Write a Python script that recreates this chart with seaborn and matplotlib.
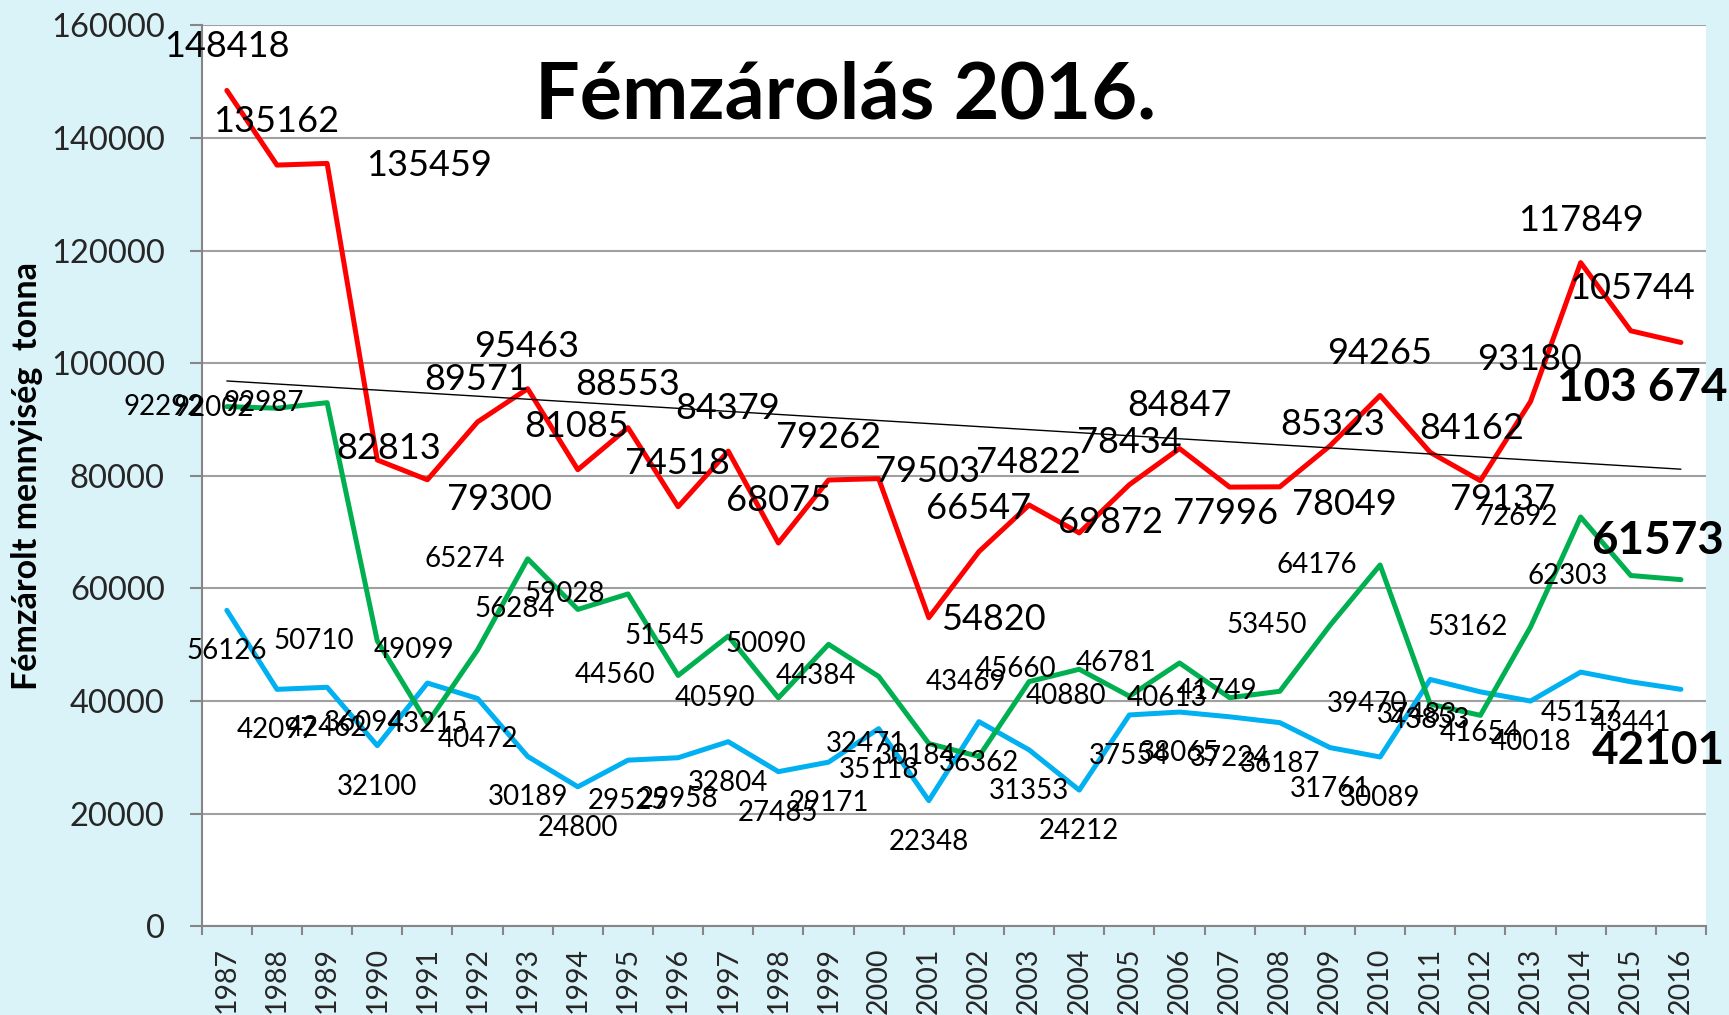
import numpy as np
import pandas as pd
import matplotlib
matplotlib.use("Agg")
import matplotlib.pyplot as plt
import seaborn as sns

# --- data (tonnes per year) ---
years = list(range(1987, 2017))
red = [148418, 135162, 135459, 82813, 79300, 89571, 95463, 81085, 88553, 74518,
       84379, 68075, 79262, 79503, 54820, 66547, 74822, 69872, 78434, 84847,
       77996, 78049, 85323, 94265, 84162, 79137, 93180, 117849, 105744, 103674]
green = [92292, 92002, 92987, 50710, 36094, 49099, 65274, 56284, 59028, 44560,
         51545, 40590, 50090, 44384, 32471, 30184, 43469, 45660, 40880, 46781,
         40613, 41749, 53450, 64176, 39470, 37483, 53162, 72692, 62303, 61573]
blue = [56126, 42097, 42462, 32100, 43215, 40472, 30189, 24800, 29525, 29958,
        32804, 27485, 29171, 35118, 22348, 36362, 31353, 24212, 37554, 38065,
        37224, 36187, 31761, 30089, 43853, 41654, 40018, 45157, 43441, 42101]
last_labels = ["103 674", "61573", "42101"]

# --- layout: where the (hand placed) red labels sit, in category / value units ---
red_lab_x = [0.0, 0.99, 4.04, 3.22, 5.44, 4.98, 5.98, 6.97, 7.99, 8.99,
             9.99, 11.0, 12.01, 13.97, 15.28, 14.99, 15.99, 17.62, 17.99, 19.0,
             19.92, 22.28, 22.05, 23.0, 24.83, 25.45, 25.99, 27.01, 28.03]
red_lab_y = [156150, 142850, 135040, 84910, 75740, 97030, 102940, 88750, 96140, 82130,
             92000, 75570, 86860, 80770, 54460, 74270, 82300, 71790, 85910, 92420,
             73380, 74860, 89170, 101770, 88460, 75740, 100580, 125410, 113290]
last_lab_x = [28.22, 28.53, 28.55]
last_lab_y = [95560, 68350, 31230]

BG = "#DAF3F8"
RED, GREEN, BLUE = "#FF0000", "#00B050", "#00B0F0"
AXIS_GREY = "#868686"

sns.set_theme(style="white")
plt.rcParams['font.family'] = ['Lato', 'DejaVu Sans']

df = pd.DataFrame({"pos": np.arange(len(years)), "red": red, "green": green, "blue": blue})

fig = plt.figure(figsize=(17.29, 10.15), dpi=100, facecolor=BG)
ax = fig.add_axes([0.1167, 0.0872, 0.870, 0.888])
ax.set_facecolor("white")

for col, c in [("blue", BLUE), ("green", GREEN), ("red", RED)]:
    sns.lineplot(data=df, x="pos", y=col, color=c, lw=3.6, ax=ax, zorder=3)

# linear trend of the red series
coef = np.polyfit(df["pos"], df["red"], 1)
ends = df["pos"].iloc[[0, -1]]
ax.plot(ends, np.polyval(coef, ends), color="black", lw=1.0, zorder=4)

ax.set_xlim(-0.5, len(years) - 0.5)
ax.set_ylim(0, 160000)
ax.set_xlabel("")
ax.set_ylabel("")

ax.set_yticks(range(0, 160001, 20000))
ax.set_yticklabels([str(v) for v in range(0, 160001, 20000)])
ax.yaxis.grid(True, color="#A0A0A0", lw=1.5)
ax.set_axisbelow(True)
ax.tick_params(axis="y", direction="out", length=8.6, width=1.5, color=AXIS_GREY,
               pad=18, labelsize=23.5, left=True)

ax.set_xticks(df["pos"])
ax.set_xticklabels([str(y) for y in years], rotation=90)
ax.set_xticks(np.arange(len(years) + 1) - 0.5, minor=True)
ax.tick_params(axis="x", which="major", length=0, pad=15, labelsize=20.5)
ax.tick_params(axis="x", which="minor", direction="out", length=6.5, width=1.5,
               color=AXIS_GREY, bottom=True)

for s in ["top", "right"]:
    ax.spines[s].set_visible(False)
for s in ["left", "bottom"]:
    ax.spines[s].set_color(AXIS_GREY)
    ax.spines[s].set_linewidth(1.5)

# data labels
for i in range(len(years) - 1):
    ax.text(red_lab_x[i], red_lab_y[i], str(red[i]), fontsize=26,
            ha="center", va="center", color="black", zorder=5)
    ax.annotate(str(green[i]), (i, green[i]), xytext=(-16.5, 0), textcoords="offset points",
                ha="right", va="center", fontsize=20, color="black", zorder=5)
    ax.annotate(str(blue[i]), (i, blue[i]), xytext=(0, -29.5), textcoords="offset points",
                ha="center", va="center", fontsize=20, color="black", zorder=5)

for txt, x, y in zip(last_labels, last_lab_x, last_lab_y):
    ax.text(x, y, txt, fontsize=33, fontweight="bold", ha="center", va="center",
            color="black", zorder=6)

fig.text(0.489, 0.8837, "Fémzárolás 2016.", fontsize=57, fontweight="bold",
         ha="center", va="baseline", color="black")
fig.text(27 / 1729, 1 - 476 / 1015, "Fémzárolt mennyiség  tonna", rotation=90,
         fontsize=24.5, fontweight="bold", ha="center", va="center", color="black")

fig.savefig("out.png", dpi=100, facecolor=BG)
